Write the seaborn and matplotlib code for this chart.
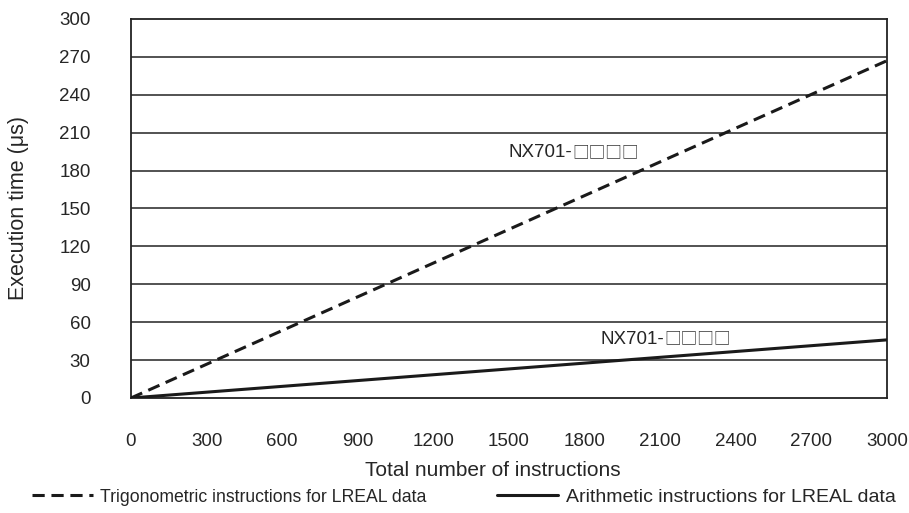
import pandas as pd
import matplotlib
matplotlib.use('Agg')
import matplotlib.pyplot as plt
import seaborn as sb
from matplotlib.lines import Line2D

# data
instructions = [0, 3000]
trig_time = [0, 267]
arith_time = [0, 46]
x_ticks = [0, 300, 600, 900, 1200, 1500, 1800, 2100, 2400, 2700, 3000]
y_ticks = [0, 30, 60, 90, 120, 150, 180, 210, 240, 270, 300]
model_prefix = 'NX701-'
model_boxes = '\u25a1\u25a1\u25a1\u25a1'
trig_label_pos = (1750, 194)
arith_label_pos = (2115, 46.5)
series_names = ['Trigonometric instructions for LREAL data',
                'Arithmetic instructions for LREAL data']

sb.set_style('white')
fonts = ['Liberation Sans', 'Noto Sans CJK JP', 'DejaVu Sans']
plt.rcParams['font.family'] = fonts

df = pd.DataFrame({
    'x': instructions * 2,
    'y': trig_time + arith_time,
    'series': [series_names[0]] * 2 + [series_names[1]] * 2,
})

fig = plt.figure(figsize=(9.09, 5.13), dpi=100)
ax = fig.add_axes([0.1441, 0.2242, 0.9758 - 0.1441, 0.963 - 0.2242])

# horizontal grid lines
for y in y_ticks[1:-1]:
    ax.axhline(y, color='#444444', lw=1.3, zorder=1)

sb.lineplot(data=df, x='x', y='y', hue='series', style='series',
            palette=['#1a1a1a', '#1a1a1a'],
            dashes=[(4, 2.2), ''], linewidth=2.2, ax=ax, legend=False, zorder=3)

ax.set_xlim(0, 3000)
ax.set_ylim(0, 300)
ax.set_xticks(x_ticks)
ax.set_yticks(y_ticks)
ax.tick_params(axis='x', direction='in', length=10, width=1.2, color='#222222',
               pad=25, labelsize=13.5)
ax.tick_params(axis='y', length=0, pad=29, labelsize=13.5)
for s in ax.spines.values():
    s.set_color('#222222')
    s.set_linewidth(1.3)

ax.set_xlabel('Total number of instructions', fontsize=15, labelpad=8)
ax.xaxis.label.set_x(0.479)
ax.set_ylabel('Execution time (\u03bcs)', fontsize=15.5, labelpad=22)

# model labels: text part + CJK boxes
for pos in (trig_label_pos, arith_label_pos):
    ax.text(*pos, model_prefix, ha='right', va='center', fontsize=13.5,
            family='Liberation Sans')
    ax.text(*pos, model_boxes, ha='left', va='center', fontsize=12,
            family='Noto Sans CJK JP', color='#333333')

handles = [Line2D([], [], color='#1a1a1a', lw=2.2, dashes=(4, 2.2)),
           Line2D([], [], color='#1a1a1a', lw=2.2)]
leg = fig.legend(handles, series_names,
                 loc='center', bbox_to_anchor=(0.51, 0.031), ncol=2, frameon=False,
                 handlelength=3.4, handletextpad=0.4, columnspacing=3.9, fontsize=13)
leg.get_texts()[0].set_fontsize(12.7)
leg.get_texts()[1].set_fontsize(14)

fig.savefig('out.png', dpi=100)
